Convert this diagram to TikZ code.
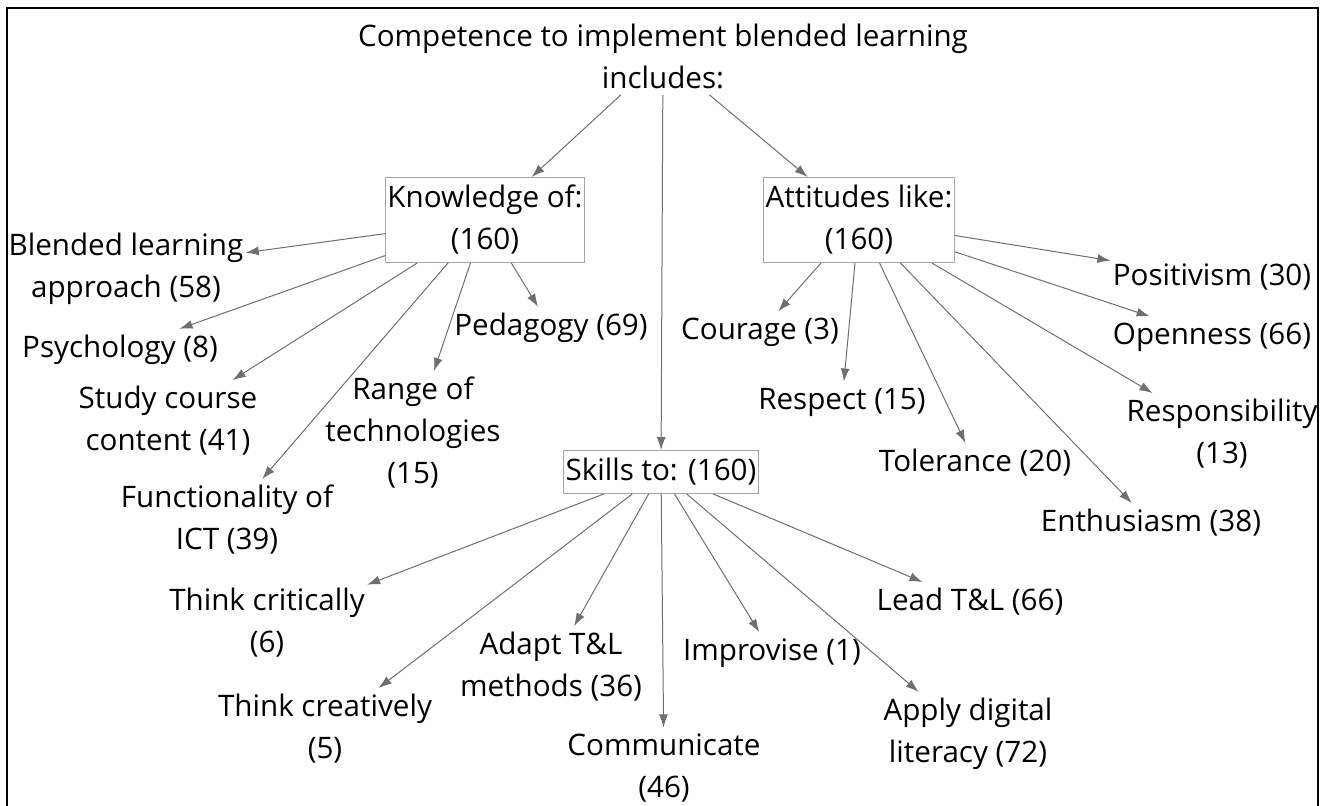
\documentclass[tikz,border=0pt]{standalone}
\usepackage{fontspec}
\setmainfont{Open Sans}
\usetikzlibrary{arrows.meta}
\definecolor{linkgray}{HTML}{6F6F6F}
\definecolor{boxgray}{HTML}{A6A6A6}

\begin{document}
\begin{tikzpicture}[
    x=0.5pt, y=-0.5pt,
    font=\fontsize{14.8}{21}\selectfont,
    field/.style={draw=boxgray, line width=0.5pt, align=center, inner xsep=1pt, inner ysep=0pt, minimum height=42.5pt},
    leaf/.style={align=center, inner xsep=1pt, inner ysep=3pt},
    link/.style={draw=linkgray, line width=0.5pt, -{Latex[length=6.5pt,width=4.5pt]}}
]
\useasboundingbox (0,0) rectangle (1322,805);
\draw[line width=1.1pt] (7,8) rectangle (1318,840);

\node[leaf] (top) at (663,56) {Competence to implement blended learning\\includes:};

\node[field] (know) at (485,220) {Knowledge of:\\(160)};
\node[field] (att) at (859,220) {Attitudes like:\\(160)};
\node[field, minimum height=21.5pt] (skills) at (661,472) {Skills to: (160)};

\node[leaf] (blended) at (126,269) {Blended learning\\approach (58)};
\node[leaf] (psych) at (120,350) {Psychology (8)};
\node[leaf] (study) at (168,421) {Study course\\content (41)};
\node[leaf] (func) at (227,520) {Functionality of\\ICT (39)};
\node[leaf] (range) at (413,433) {Range of\\technologies\\(15)};
\node[leaf] (peda) at (551,328) {Pedagogy (69)};

\node[leaf] (courage) at (760,332) {Courage (3)};
\node[leaf] (respect) at (842,402) {Respect (15)};
\node[leaf] (toler) at (975,463) {Tolerance (20)};
\node[leaf] (enthus) at (1151,523) {Enthusiasm (38)};
\node[leaf] (respons) at (1222,434) {Responsibility\\(13)};
\node[leaf] (open) at (1212,337) {Openness (66)};
\node[leaf] (posit) at (1212,277) {Positivism (30)};

\node[leaf] (critical) at (267,623) {Think critically\\(6)};
\node[leaf] (creative) at (325,729) {Think creatively\\(5)};
\node[leaf] (adapt) at (551,667) {Adapt T\&L\\methods (36)};
\node[leaf] (commun) at (664,768) {Communicate\\(46)};
\node[leaf] (improv) at (772,653) {Improvise (1)};
\node[leaf] (apply) at (968,734) {Apply digital\\literacy (72)};
\node[leaf] (lead) at (970,602) {Lead T\&L (66)};

\draw[link] (top) -- (know);
\draw[link] (top) -- (att);
\draw[link] (top) -- (skills);

\foreach \n in {blended,psych,study,func,range,peda}
  \draw[link] (know) -- (\n);
\foreach \n in {courage,respect,toler,enthus,respons,open,posit}
  \draw[link] (att) -- (\n);
\foreach \n in {critical,creative,adapt,commun,improv,apply,lead}
  \draw[link] (skills) -- (\n);
\end{tikzpicture}
\end{document}
